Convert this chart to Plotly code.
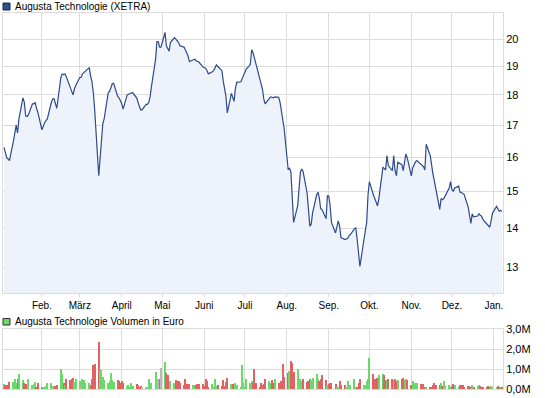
import pandas as pd
import plotly.graph_objects as go

# ---------------- data ----------------
start_date = "2010-01-04"  # first trading day; one value per business day

close = [
    16.3, 16.1, 15.98, 15.95, 15.9,
    16.5, 16.8, 17.0, 16.75, 17.2,
    17.9, 17.75, 17.3, 17.28, 17.33,
    17.7, 17.7, 17.75, 17.55, 17.42,
    16.85, 17.0, 17.08, 17.15, 17.2,
    17.75, 17.86, 17.87, 17.7, 17.55,
    18.6, 18.72, 18.7, 18.73, 18.63,
    18.27, 18.12, 18.0, 18.2, 18.32,
    18.6, 18.6, 18.73, 18.78, 18.83,
    18.95, 18.65, 18.45, 18.08, 17.5,
    15.45, 16.0, 16.6, 17.05, 17.2,
    18.07, 18.12, 18.25, 18.38, 18.4,
    17.95, 17.9, 17.8, 17.7, 17.52,
    18.0, 18.02, 18.05, 18.06, 18.08,
    17.9, 17.72, 17.62, 17.5, 17.5,
    17.68, 17.68, 17.75, 17.95, 18.3,
    19.25, 19.9, 19.9, 19.7, 19.7,
    20.25, 19.75, 19.65, 19.55, 19.88,
    20.05, 20.0, 19.95, 19.87, 19.75,
    19.7, 19.6, 19.5, 19.37, 19.17,
    19.22, 19.25, 19.2, 19.17, 19.15,
    18.97, 18.95, 18.93, 18.85, 18.73,
    18.8, 18.85, 18.95, 19.05, 18.99,
    18.85, 18.48, 18.25, 17.95, 17.4,
    18.05, 17.92, 17.78, 18.22, 18.43,
    18.45, 18.55, 18.68, 18.8, 18.9,
    19.05, 19.6, 19.5, 19.3, 19.15,
    18.6, 18.4, 18.2, 17.85, 17.7,
    17.87, 17.93, 17.92, 17.9, 17.93,
    17.92, 17.75, 17.45, 17.2, 16.9,
    15.63, 15.67, 15.57, 14.6, 14.15,
    14.6, 15.2, 15.55, 15.65, 15.58,
    14.95, 14.55, 14.05, 14.1, 14.4,
    14.9, 14.98, 14.82, 14.52, 14.5,
    14.25, 14.88, 14.87, 14.6, 14.15,
    13.87, 14.05, 14.19, 14.05, 13.75,
    13.7, 13.71, 13.73, 13.8, 13.83,
    13.98, 14.0, 13.7, 13.35, 13.02,
    13.7, 13.88, 14.15, 14.9, 15.28,
    14.9, 14.78, 14.66, 14.6, 14.8,
    15.7, 15.67, 15.62, 16.05, 15.75,
    15.6, 16.05, 15.6, 15.45, 15.85,
    15.78, 15.6, 15.9, 16.1, 15.98,
    15.45, 15.68, 15.8, 15.86, 15.9,
    15.8, 15.78, 15.72, 15.62, 16.4,
    16.05, 15.67, 15.5, 15.3, 15.12,
    14.5, 14.8, 14.77, 14.8, 14.88,
    15.1, 15.28, 15.05, 15.0, 15.1,
    15.15, 14.98, 14.97, 14.95, 14.92,
    14.57, 14.35, 14.12, 14.38, 14.3,
    14.32, 14.38, 14.34, 14.31, 14.22,
    14.1, 14.04, 14.02, 14.2, 14.4,
    14.58, 14.5, 14.45, 14.47, 14.45,
]

# daily turnover in million euro
volume_mio = [
    0.22, 0.17, 0.17, 0.05, 0.33, 0.33, 0.47, 0.3, 0.5, 0.72,
    0.43, 0.27, 0.22, 0.22, 0.47, 0.17, 0.25, 0.33, 0.05, 0.27,
    0.07, 0.1, 0.1, 0.13, 0.27, 0.27, 0.13, 0.13, 0.13, 0.17,
    0.97, 0.72, 0.3, 0.17, 0.5, 0.43, 0.5, 0.55, 0.33, 0.47,
    0.38, 0.13, 0.47, 0.43, 0.3, 0.3, 0.17, 0.47, 1.17, 1.22,
    2.37, 0.97, 0.93, 0.6, 0.42, 0.27, 0.38, 0.77, 0.43, 0.33,
    0.42, 0.37, 0.3, 0.38, 0.27, 0.13, 0.17, 0.07, 0.3, 0.13,
    0.23, 0.17, 0.05, 0.13, 0.05, 0.07, 0.05, 0.47, 0.13, 0.3,
    0.83, 0.5, 0.5, 0.5, 1.05, 1.33, 0.8, 0.67, 0.27, 0.38,
    0.27, 0.42, 0.38, 0.38, 0.27, 0.17, 0.5, 0.22, 0.22, 0.22,
    0.17, 0.17, 0.2,
    0.22, 0.22, 0.22, 0.13, 0.47, 0.37, 0.05, 0.22, 0.05, 0.5,
    0.13, 0.17, 0.13, 0.43, 0.13, 0.33, 0.55, 0.22, 0.22, 0.22,
    0.27, 0.17, 0.05, 1.17, 0.3, 0.1, 0.5, 0.27, 0.38, 0.27,
    0.97, 0.3, 0.1, 0.27, 0.2, 0.22, 0.47, 0.37, 0.3, 0.43,
    0.3, 0.47, 0.27, 0.27, 0.38, 1.22, 0.6, 0.77, 0.88, 1.37,
    1.27, 0.83, 1.0, 0.38, 0.47, 0.38, 0.5, 0.33, 0.38, 0.47,
    0.43, 0.55, 0.72, 0.5, 0.37, 0.47, 0.67, 0.42, 0.17, 0.22,
    0.27, 0.3, 0.22, 0.05, 0.1, 0.37, 0.17, 0.17, 0.1, 0.37,
    0.15, 0.2,
    0.47, 0.1, 0.1, 0.3, 0.5, 0.2, 0.2, 0.37, 0.5, 1.55,
    0.72, 0.47, 0.38, 0.55, 0.67, 0.72, 0.67, 0.43, 0.43, 0.47,
    0.5, 0.43, 0.5, 0.38, 0.43, 0.5, 0.55, 0.43, 0.5, 0.43,
    0.17, 0.37, 0.27, 0.27, 0.27, 0.22, 0.13, 0.22, 0.1, 0.1,
    0.1, 0.1, 0.17, 0.3, 0.17,
    0.2, 0.3, 0.12, 0.38, 0.15, 0.2, 0.1, 0.12, 0.25, 0.2,
    0.1, 0.2, 0.18, 0.2, 0.1, 0.12, 0.15, 0.1, 0.18, 0.1,
    0.12, 0.2, 0.12, 0.1, 0.08, 0.1, 0.15, 0.1, 0.12, 0.08,
    0.1, 0.12, 0.1, 0.08, 0.1,
]

month_ticks = ["2010-02-01", "2010-03-01", "2010-04-01", "2010-05-01", "2010-06-01",
               "2010-07-01", "2010-08-01", "2010-09-01", "2010-10-01", "2010-11-01",
               "2010-12-01", "2011-01-01"]
month_labels = ["Feb.", "März", "April", "Mai", "Juni", "Juli", "Aug.", "Sep.",
                "Okt.", "Nov.", "Dez.", "Jan."]
price_ticks = [13, 14, 15, 16, 17, 18, 19, 20]
volume_ticks = [0, 1e6, 2e6, 3e6]
volume_tick_labels = ["0,0M", "1,0M", "2,0M", "3,0M"]

title_main = "Augusta Technologie (XETRA)"
title_volume = "Augusta Technologie Volumen in Euro"

# ---------------- build ----------------
dates = pd.bdate_range(start_date, periods=len(close))
volume = [v * 1e6 for v in volume_mio]

GREEN = "#6ad96a"
RED = "#e06262"
GREY = "#b8b8b8"
colors = []
for i, c in enumerate(close):
    if i == 0 or c > close[i - 1]:
        colors.append(GREEN)
    elif c < close[i - 1]:
        colors.append(RED)
    else:
        colors.append(GREY)

W, H = 545, 398
ML, MR, MT, MB = 3, 42, 13, 9
PW, PH = W - ML - MR, H - MT - MB


def fx(p):
    return (p - ML) / PW


def fy(p):
    return (H - MB - p) / PH


FONT = "Liberation Sans, Arial, sans-serif"
GRID = "#dcdcdc"
LINE = "#2c4a8c"

fig = go.Figure()
fig.add_trace(go.Scatter(x=dates, y=[10] * len(dates), mode="lines",
                         line=dict(width=0, color="rgba(0,0,0,0)"),
                         hoverinfo="skip", showlegend=False))
fig.add_trace(go.Scatter(x=dates, y=close, mode="lines",
                         line=dict(color=LINE, width=1.2),
                         fill="tonexty", fillcolor="#eef2fa", showlegend=False))
fig.add_trace(go.Bar(x=dates, y=volume, marker=dict(color=colors, line=dict(width=0)),
                     width=0.8 * 86400000, xaxis="x2", yaxis="y2", showlegend=False))

xrange = ["2010-01-03 06:00", "2011-01-07 18:00"]
common_x = dict(type="date", range=xrange, tickvals=month_ticks, showgrid=True,
                gridcolor=GRID, gridwidth=1, zeroline=False, showline=True,
                linecolor=GRID, linewidth=1, mirror=True)

fig.update_layout(
    width=W, height=H,
    margin=dict(l=ML, r=MR, t=MT, b=MB),
    paper_bgcolor="white", plot_bgcolor="white",
    showlegend=False, bargap=0,
    font=dict(family=FONT, size=10, color="#000"),
    xaxis=dict(**common_x, anchor="y", ticktext=month_labels, ticks="outside",
               ticklen=3, tickcolor=GRID, tickfont=dict(family=FONT, size=10, color="#000")),
    yaxis=dict(type="log", domain=[fy(293.3), 1], range=[1.0926, 1.3224], side="right",
               tickvals=price_ticks, ticktext=[str(t) for t in price_ticks],
               showgrid=True, gridcolor=GRID, zeroline=False, showline=True,
               linecolor=GRID, mirror=True, ticks="",
               tickfont=dict(family=FONT, size=11, color="#000")),
    xaxis2=dict(**common_x, anchor="y2", showticklabels=False, ticks=""),
    yaxis2=dict(domain=[0, fy(329.3)], range=[0, 3e6], side="right",
                tickvals=volume_ticks, ticktext=volume_tick_labels,
                showgrid=True, gridcolor=GRID, zeroline=False, showline=True,
                linecolor=GRID, mirror=True, ticks="",
                tickfont=dict(family=FONT, size=11, color="#000")),
)

# legend boxes and texts
fig.add_shape(type="rect", xref="paper", yref="paper",
              x0=fx(3), x1=fx(10), y0=fy(10), y1=fy(3),
              fillcolor="#2e4d8e", line=dict(color="#1a2a4a", width=1))
fig.add_annotation(text=title_main, xref="paper", yref="paper", x=fx(13), y=fy(6.5),
                   xanchor="left", yanchor="middle", showarrow=False,
                   font=dict(family=FONT, size=10, color="#000"))
fig.add_shape(type="rect", xref="paper", yref="paper",
              x0=fx(3), x1=fx(10), y0=fy(325), y1=fy(318.5),
              fillcolor=GREEN, line=dict(color="#333333", width=1))
fig.add_annotation(text=title_volume, xref="paper", yref="paper", x=fx(13), y=fy(321.5),
                   xanchor="left", yanchor="middle", showarrow=False,
                   font=dict(family=FONT, size=10, color="#000"))

fig.write_html("out.html")
